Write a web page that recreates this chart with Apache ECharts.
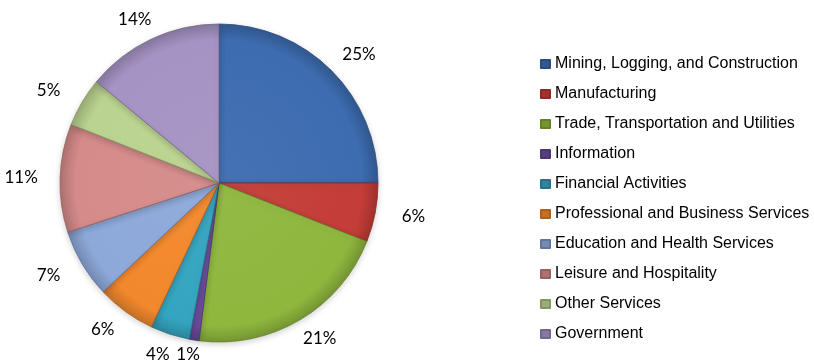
<!DOCTYPE html>
<html>
<head>
<meta charset="utf-8">
<script src="https://cdn.jsdelivr.net/npm/echarts@6/dist/echarts.min.js"></script>
<style>
  html, body { margin: 0; padding: 0; background: #fff; }
  #chart { width: 814px; height: 364px; }
</style>
</head>
<body>
<div id="chart"></div>
<script>
// Employment share by industry sector
const sectors = [
  'Mining, Logging, and Construction',
  'Manufacturing',
  'Trade, Transportation and Utilities',
  'Information',
  'Financial Activities',
  'Professional and Business Services',
  'Education and Health Services',
  'Leisure and Hospitality',
  'Other Services',
  'Government'
];
const shares = [25, 6, 21, 1, 4, 6, 7, 11, 5, 14];
const palette = [
  '#3D6CB0', '#C43D38', '#8FB73E', '#6A4C9C', '#34A5C0',
  '#F2882D', '#8DA9DA', '#D58B8A', '#BBD390', '#A593C4'
];

function shade(hex, f) {
  const n = parseInt(hex.slice(1), 16);
  let r = (n >> 16) & 255, g = (n >> 8) & 255, b = n & 255;
  const m = c => Math.max(0, Math.min(255, Math.round(f > 0 ? c + (255 - c) * f : c * (1 + f))));
  return 'rgb(' + m(r) + ',' + m(g) + ',' + m(b) + ')';
}

const W = 814, H = 364;
const cx = 219, cy = 183, R = 159;
// percentage labels sit on an ellipse around the pie (wider than tall, text is wide)
const labelRX = 198, labelRY = 181;

const sliceData = sectors.map((name, i) => ({
  name: name,
  value: shares[i],
  itemStyle: {
    color: {
      type: 'radial', x: cx, y: cy, r: R, global: true,
      colorStops: [
        { offset: 0, color: shade(palette[i], 0.04) },
        { offset: 0.9, color: palette[i] },
        { offset: 1, color: shade(palette[i], -0.18) }
      ]
    },
    borderColor: shade(palette[i], -0.3),
    borderWidth: 0.8
  }
}));

const chart = echarts.init(document.getElementById('chart'), null, { renderer: 'canvas' });
chart.setOption({
  animation: false,
  color: palette,
  legend: {
    orient: 'vertical',
    left: 540,
    top: 56,
    padding: 0,
    icon: 'rect',
    itemWidth: 9,
    itemHeight: 8,
    itemGap: 14,
    textStyle: { fontFamily: 'Liberation Sans', fontSize: 16, color: '#000', lineHeight: 16 },
    data: sectors
  },
  series: [
    {
      type: 'pie',
      center: [cx, cy],
      radius: [0, R],
      startAngle: 90,
      clockwise: true,
      label: {
        show: true,
        position: 'inside',
        formatter: '{c}%',
        fontFamily: 'Lato',
        fontSize: 17,
        color: '#000'
      },
      labelLine: { show: false },
      labelLayout: function (p) {
        const r = p.labelRect;
        const lx = r.x + r.width / 2 - cx, ly = r.y + r.height / 2 - cy;
        const d = Math.sqrt(lx * lx + ly * ly) || 1;
        return {
          x: cx + lx / d * labelRX,
          y: Math.min(cy + ly / d * labelRY, H - 9),
          align: 'center',
          verticalAlign: 'middle'
        };
      },
      emphasis: { disabled: true },
      itemStyle: { shadowBlur: 6, shadowColor: 'rgba(0,0,0,0.18)', shadowOffsetY: 2 },
      data: sliceData
    }
  ]
});
</script>
</body>
</html>
